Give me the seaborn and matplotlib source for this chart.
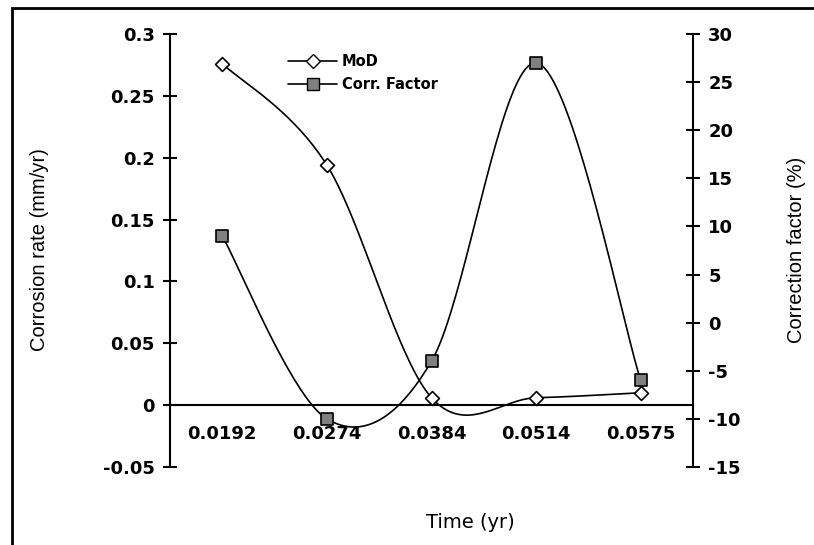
import matplotlib
matplotlib.use("Agg")
import matplotlib.pyplot as plt
from matplotlib.lines import Line2D
from matplotlib.patches import Rectangle
import numpy as np
import pandas as pd
import seaborn as sns

time_labels = ["0.0192", "0.0274", "0.0384", "0.0514", "0.0575"]
mod_rate = [0.276, 0.194, 0.006, 0.006, 0.010]
corr_factor = [9.0, -10.0, -4.0, 27.0, -6.0]


def smooth_curve(values, n=40):
    # Excel-style smoothed line: cubic Bezier with Catmull-Rom control points
    y = np.asarray(values, dtype=float)
    x = np.arange(len(y), dtype=float)
    px = np.concatenate([[x[0]], x, [x[-1]]])
    py = np.concatenate([[y[0]], y, [y[-1]]])
    xs, ys = [], []
    t = np.linspace(0, 1, n)
    for i in range(1, len(px) - 2):
        p0 = np.array([px[i - 1], py[i - 1]])
        p1 = np.array([px[i], py[i]])
        p2 = np.array([px[i + 1], py[i + 1]])
        p3 = np.array([px[i + 2], py[i + 2]])
        c1 = p1 + (p2 - p0) / 6
        c2 = p2 - (p3 - p1) / 6
        pts = ((1 - t) ** 3)[:, None] * p1 + (3 * (1 - t) ** 2 * t)[:, None] * c1 \
            + (3 * (1 - t) * t ** 2)[:, None] * c2 + (t ** 3)[:, None] * p2
        xs.extend(pts[:, 0])
        ys.extend(pts[:, 1])
    return pd.DataFrame({"x": xs, "y": ys})


sns.set_style("white")
plt.rcParams["font.family"] = ["Liberation Sans", "DejaVu Sans"]
plt.rcParams["axes.unicode_minus"] = False
plt.rcParams["text.color"] = "black"
plt.rcParams["axes.labelcolor"] = "black"
plt.rcParams["xtick.color"] = "black"
plt.rcParams["ytick.color"] = "black"

tick_font = {"family": "DejaVu Sans", "weight": "bold", "size": 13}

fig = plt.figure(figsize=(8.14, 5.45), dpi=100)
ax = fig.add_axes([170 / 814, 1 - 467 / 545, 523 / 814, 433 / 545])
ax2 = ax.twinx()

points = pd.DataFrame({"x": np.arange(len(time_labels)), "mod": mod_rate, "corr": corr_factor})

sns.lineplot(data=smooth_curve(mod_rate), x="x", y="y", ax=ax, color="black", lw=1.2,
             sort=False, estimator=None)
sns.scatterplot(data=points, x="x", y="mod", ax=ax, marker="D", s=50, color="white",
                edgecolor="black", linewidth=1.2, zorder=5)
sns.lineplot(data=smooth_curve(corr_factor), x="x", y="y", ax=ax2, color="black", lw=1.2,
             sort=False, estimator=None)
sns.scatterplot(data=points, x="x", y="corr", ax=ax2, marker="s", s=75, color="#808080",
                edgecolor="black", linewidth=1.2, zorder=5)

ax.set_xlim(-0.5, len(time_labels) - 0.5)
ax.set_ylim(-0.05, 0.3)
ax2.set_ylim(-15, 30)

# left axis
ax.set_yticks(np.arange(-0.05, 0.301, 0.05))
ax.set_yticklabels(["-0.05", "0", "0.05", "0.1", "0.15", "0.2", "0.25", "0.3"], fontdict=tick_font)
ax.tick_params(axis="y", direction="inout", length=10, width=1.5, pad=6, colors="black")

# x axis at zero, ticks at category boundaries
ax.spines["bottom"].set_position(("data", 0))
ax.set_xticks(np.arange(len(time_labels)))
ax.set_xticklabels(time_labels, fontdict=tick_font)
ax.set_xticks(np.arange(0.5, len(time_labels) - 1), minor=True)
ax.tick_params(axis="x", which="major", length=0, pad=14, colors="black")
ax.tick_params(axis="x", which="minor", direction="inout", length=10, width=1.5, colors="black")

for a in (ax, ax2):
    a.spines["top"].set_visible(False)
    a.set_xlabel("")
    a.set_ylabel("")
ax.spines["right"].set_visible(False)
ax2.spines["left"].set_visible(False)
ax2.spines["bottom"].set_visible(False)
for sp in ("left", "bottom"):
    ax.spines[sp].set_linewidth(1.5)
    ax.spines[sp].set_color("black")
ax2.spines["right"].set_linewidth(1.5)
ax2.spines["right"].set_color("black")

ax2.set_yticks(np.arange(-15, 31, 5))
ax2.set_yticklabels([str(v) for v in range(-15, 31, 5)], fontdict=tick_font)
ax2.tick_params(axis="y", direction="inout", length=10, width=1.5, pad=6, colors="black")

fig.text(40 / 814, 1 - 250 / 545, "Corrosion rate (mm/yr)", rotation=90, fontsize=14.5,
         ha="center", va="center", color="black")
fig.text(797 / 814, 1 - 250 / 545, "Correction factor (%)", rotation=90, fontsize=14.5,
         ha="center", va="center", color="black")
fig.text(470 / 814, 1 - 523 / 545, "Time (yr)", fontsize=14, family="DejaVu Sans",
         ha="center", va="center", color="black")

handles = [
    Line2D([], [], color="black", lw=1.2, marker="D", markersize=7, markerfacecolor="white",
           markeredgecolor="black"),
    Line2D([], [], color="black", lw=1.2, marker="s", markersize=8.5, markerfacecolor="#808080",
           markeredgecolor="black"),
]
leg = ax.legend(handles, ["MoD", "Corr. Factor"], loc="upper left", bbox_to_anchor=(0.2, 0.985),
                frameon=False, handlelength=3.4, handletextpad=0.3, labelspacing=0.6,
                prop={"family": "DejaVu Sans", "weight": "bold", "size": 10.5})
for txt in leg.get_texts():
    txt.set_color("black")

fig.patches.append(Rectangle((12 / 814, -0.02), 1.02, 1 - 8 / 545 + 0.02, transform=fig.transFigure,
                             fill=False, edgecolor="black", lw=2))

fig.savefig("out.png", dpi=100)
